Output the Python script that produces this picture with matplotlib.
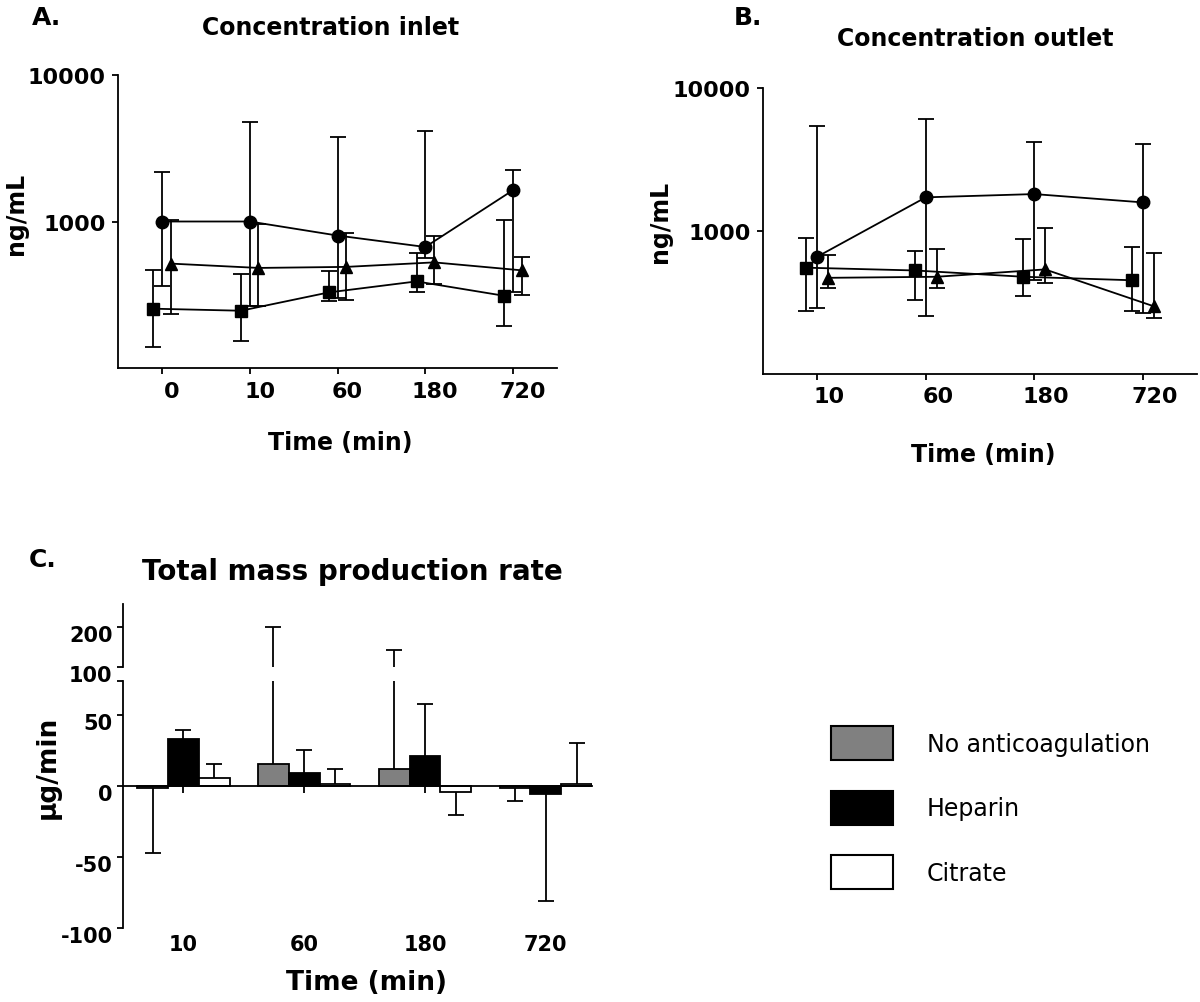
import numpy as np
import matplotlib
matplotlib.use('Agg')
import matplotlib.pyplot as plt
import matplotlib.transforms as mtransforms
from matplotlib.ticker import NullLocator
from matplotlib.patches import Patch

W, H = 1200, 1003

# panel A: concentration inlet
times_a = ['0', '10', '60', '180', '720']
circle_a = np.array([1000, 1000, 802, 670, 1637])
circle_a_lo = np.array([361, 263, 300, 560, 330])
circle_a_hi = np.array([2175, 4740, 3800, 4130, 2245])
tri_a = np.array([516, 482, 490, 526, 464])
tri_a_lo = np.array([233, 263, 292, 376, 316])
tri_a_hi = np.array([1030, 955, 837, 802, 573])
sq_a = np.array([254, 246, 328, 390, 311])
sq_a_lo = np.array([140, 154, 285, 328, 192])
sq_a_hi = np.array([464, 440, 462, 610, 1020])

# panel B: concentration outlet
times_b = ['10', '60', '180', '720']
circle_b = np.array([658, 1714, 1807, 1580])
circle_b_lo = np.array([288, 254, 455, 265])
circle_b_hi = np.array([5420, 6030, 4180, 4085])
sq_b = np.array([551, 527, 476, 450])
sq_b_lo = np.array([272, 329, 348, 272])
sq_b_hi = np.array([895, 721, 881, 774])
tri_b = np.array([468, 476, 536, 296])
tri_b_lo = np.array([398, 398, 432, 245])
tri_b_hi = np.array([672, 741, 1041, 703])

# panel C: total mass production rate (bar value, end of one-sided error bar)
times_c = ['10', '60', '180', '720']
groups = ['No anticoagulation', 'Heparin', 'Citrate']
no_anticoag = np.array([-1, 16, 12.5, -1])
no_anticoag_end = np.array([-47, 200, 142, -10.3])
heparin = np.array([33.6, 9.2, 21.4, -5.6])
heparin_end = np.array([39.7, 25.6, 57.7, -81])
citrate = np.array([5.6, 1.4, -4, 1.9])
citrate_end = np.array([16, 12, -20.4, 30.3])

plt.rcParams['font.family'] = ['DejaVu Sans']
plt.rcParams['font.weight'] = 'bold'

fig = plt.figure(figsize=(W / 100, H / 100), dpi=100)


def px_axes(l, t, r, b):
    return fig.add_axes([l / W, 1 - b / H, (r - l) / W, (b - t) / H])


def ftext(x, y, s, **kw):
    fig.text(x / W, 1 - y / H, s, ha='center', va='center', **kw)


def shift(labels, dx, dy):
    off = mtransforms.ScaledTranslation(dx / 100, dy / 100, fig.dpi_scale_trans)
    for lab in labels:
        lab.set_transform(lab.get_transform() + off)


def line_panel(ax, times, series, xshift):
    for offset, marker, ms, mean, lo, hi in series:
        x = np.arange(len(times)) + offset
        ax.errorbar(x, mean, yerr=[mean - lo, hi - mean], fmt='-', marker=marker,
                    color='black', ms=ms, lw=1.3, elinewidth=1.3, capsize=5.5,
                    capthick=1.3)
    ax.set_yscale('log')
    ax.set_ylim(100, 10000)
    ax.set_yticks([1000, 10000])
    ax.set_yticklabels(['1000', '10000'])
    ax.yaxis.set_minor_locator(NullLocator())
    ax.set_xlim(-0.5, len(times) - 0.5)
    ax.set_xticks(range(len(times)))
    ax.set_xticklabels(times)
    for s in ['top', 'right']:
        ax.spines[s].set_visible(False)
    for s in ['left', 'bottom']:
        ax.spines[s].set_linewidth(1.3)
    ax.tick_params(width=1.3, length=4, labelsize=16, pad=5)
    shift(ax.get_xticklabels(), xshift, 0)


# A
ax_a = px_axes(118, 76, 557, 369)
line_panel(ax_a, times_a, [
    (-0.10, 's', 9, sq_a, sq_a_lo, sq_a_hi),
    (0.0, 'o', 9, circle_a, circle_a_lo, circle_a_hi),
    (0.10, '^', 8, tri_a, tri_a_lo, tri_a_hi),
], 10)
ftext(47, 18, 'A.', fontsize=18)
ftext(331, 28, 'Concentration inlet', fontsize=17)
ftext(16, 214, 'ng/mL', fontsize=17, rotation=90)
ftext(340, 443, 'Time (min)', fontsize=17)

# B
ax_b = px_axes(763, 89, 1197, 374.5)
line_panel(ax_b, times_b, [
    (-0.10, 's', 9, sq_b, sq_b_lo, sq_b_hi),
    (0.0, 'o', 9, circle_b, circle_b_lo, circle_b_hi),
    (0.10, '^', 8, tri_b, tri_b_lo, tri_b_hi),
], 12)
ftext(748, 18, 'B.', fontsize=18)
ftext(975, 39, 'Concentration outlet', fontsize=17)
ftext(660, 222, 'ng/mL', fontsize=17, rotation=90)
ftext(983, 455, 'Time (min)', fontsize=17)

# C, broken y axis
c_lo = px_axes(123, 681.7, 592, 929.3)
c_hi = px_axes(123, 605, 592, 668.3)
x = np.arange(len(times_c))
w = 0.255
bars = [
    (-w, no_anticoag, no_anticoag_end, '#808080'),
    (0.0, heparin, heparin_end, 'black'),
    (w, citrate, citrate_end, 'white'),
]
for ax in (c_lo, c_hi):
    for off, val, end, col in bars:
        ax.bar(x + off, val, w, color=col, edgecolor='black', lw=1.3, zorder=2)
        ax.vlines(x + off, val, end, color='black', lw=1.3, zorder=3)
        ax.plot(x + off, end, ls='none', marker='_', ms=11, mew=1.3,
                color='black', zorder=3)
    ax.set_xlim(-0.5, len(times_c) - 1 + 1.5 * w)
    for s in ['top', 'right']:
        ax.spines[s].set_visible(False)
    ax.spines['left'].set_linewidth(1.3)
    ax.tick_params(width=1.3, length=4, labelsize=15)

c_lo.set_ylim(-100, 74.4)
c_lo.set_yticks([-100, -50, 0, 50, 74.4])
c_lo.set_yticklabels(['-100', '-50', '0', '50', ''])
c_lo.spines['bottom'].set_position(('data', 0))
c_lo.spines['bottom'].set_linewidth(1.3)
c_lo.set_xticks(x)
c_lo.tick_params(axis='x', labelbottom=False, length=5)
tr = mtransforms.blended_transform_factory(c_lo.transData, c_lo.transAxes)
for i, t in enumerate(times_c):
    c_lo.text(x[i], -0.063, t, transform=tr, ha='center', va='center', fontsize=15)

c_hi.set_ylim(100, 258)
c_hi.set_yticks([100, 200])
c_hi.set_yticklabels(['100', '200'])
c_hi.spines['bottom'].set_visible(False)
c_hi.set_xticks([])
shift(c_lo.get_yticklabels(), 0, -6)
shift(c_hi.get_yticklabels(), 0, -6)

ftext(43, 560, 'C.', fontsize=18)
ftext(352, 572, 'Total mass production rate', fontsize=20)
ftext(48, 767, 'µg/min', fontsize=19, rotation=90)
ftext(366, 983, 'Time (min)', fontsize=19)

handles = [Patch(facecolor=c, edgecolor='black', lw=1.5) for _, _, _, c in bars]
fig.legend(handles, groups, loc='upper left', bbox_to_anchor=(831 / W, 1 - 727 / H),
           frameon=False, prop={'size': 17, 'weight': 'normal'},
           handlelength=2.63, handleheight=1.84, labelspacing=1.3,
           handletextpad=1.44, borderpad=0, borderaxespad=0)

fig.savefig('out.png', dpi=100)
